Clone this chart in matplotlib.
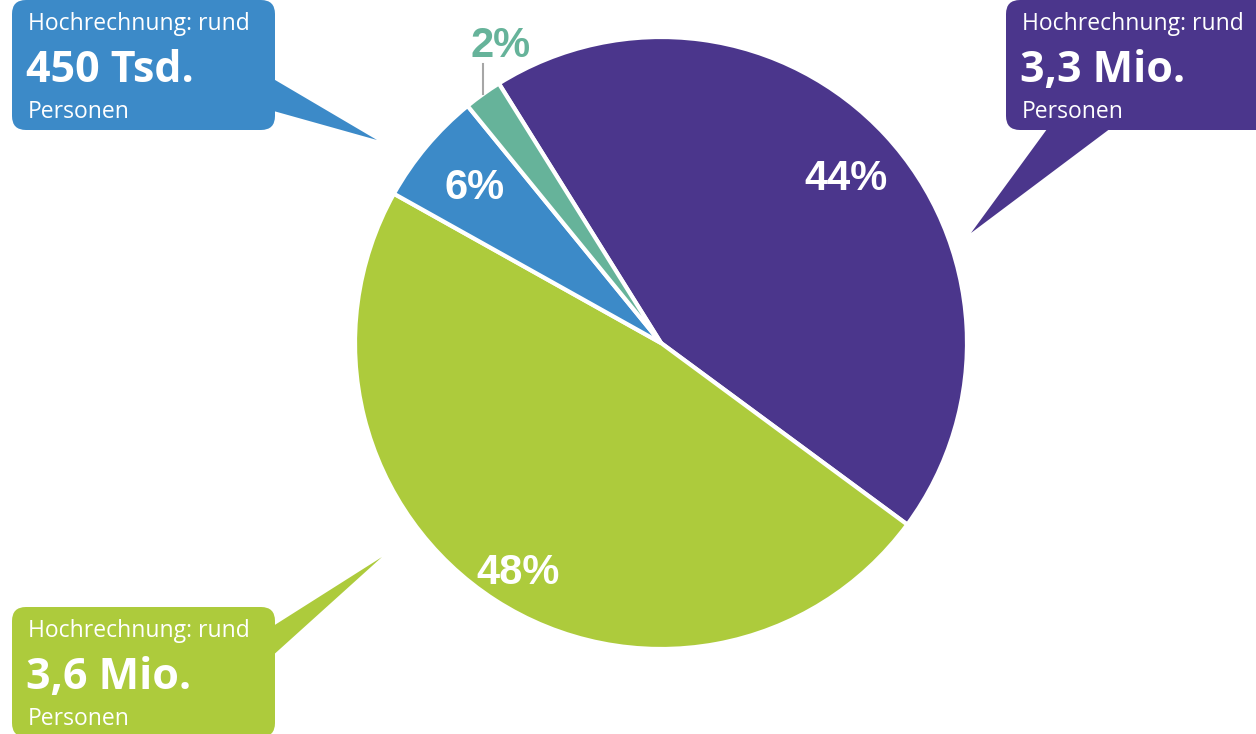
import numpy as np
import matplotlib
matplotlib.use("Agg")
import matplotlib.pyplot as plt
from matplotlib.patches import FancyBboxPatch, Polygon

# data
labels = ["Gruppe A", "Gruppe B", "Gruppe C", "Gruppe D"]
shares = [44, 48, 6, 2]
colors = ["#4B368C", "#ADCB3C", "#3C8AC8", "#66B39A"]
pct_text = ["44%", "48%", "6%", "2%"]
callout_values = ["3,3 Mio.", "3,6 Mio.", "450 Tsd."]

W, H = 1256, 734
fig = plt.figure(figsize=(W / 100, H / 100), dpi=100)
ax = fig.add_axes([0, 0, 1, 1])

cx, cy, r = 661, H - 343, 306
start = 122
wedges, _ = ax.pie(shares, colors=colors, startangle=start, counterclock=False,
                   center=(cx, cy), radius=r, frame=True,
                   wedgeprops=dict(edgecolor="white", linewidth=3))
ax.set_xlim(0, W)
ax.set_ylim(0, H)
ax.set_aspect("equal")
ax.axis("off")

# percentage labels inside wedges
dist = [0.81, 0.88, 0.81]
for i, w in enumerate(wedges[:3]):
    mid = np.deg2rad((w.theta1 + w.theta2) / 2)
    x = cx + dist[i] * r * np.cos(mid)
    y = cy + dist[i] * r * np.sin(mid)
    ax.text(x + 3, y - 4, pct_text[i], color="white", fontsize=30, fontweight="bold",
            family="Liberation Sans", ha="center", va="center")

# small slice: label outside with leader line
w = wedges[3]
mid = np.deg2rad((w.theta1 + w.theta2) / 2)
ex = cx + r * np.cos(mid)
ey = cy + r * np.sin(mid)
ax.plot([ex, ex], [ey, ey + 30], color="#A6A6A6", lw=1.5)
ax.text(ex + 18, ey + 48, pct_text[3], color=colors[3], fontsize=30,
        fontweight="bold", family="Liberation Sans", ha="center", va="center")


def callout(x0, y0, w, h, color, tail, value):
    box = FancyBboxPatch((x0 + 14, y0 + 14), w - 28, h - 28,
                         boxstyle="round,pad=14", fc=color, ec="none")
    ax.add_patch(box)
    ax.add_patch(Polygon(tail, closed=True, fc=color, ec="none"))
    top = y0 + h
    ax.text(x0 + 16, top - 30, "Hochrechnung: rund", color="white",
            fontsize=16.5, family="Open Sans", va="baseline")
    ax.text(x0 + 14, top - 82, value, color="white", fontsize=31,
            fontweight="bold", family="Open Sans", va="baseline")
    ax.text(x0 + 16, top - 118, "Personen", color="white",
            fontsize=16.5, family="Open Sans", va="baseline")


# blue callout (top left)
callout(12, H - 130, 263, 130, colors[2],
        [(270, H - 77), (270, H - 110), (377, H - 140)], callout_values[2])
# purple callout (top right)
callout(1006, H - 130, 270, 130, colors[0],
        [(1050, H - 125), (1115, H - 125), (971, H - 233)], callout_values[0])
# green callout (bottom left)
callout(12, H - 607 - 130, 263, 130, colors[1],
        [(270, H - 628), (270, H - 658), (382, H - 557)], callout_values[1])

fig.savefig("out.png", dpi=100, facecolor="white")
